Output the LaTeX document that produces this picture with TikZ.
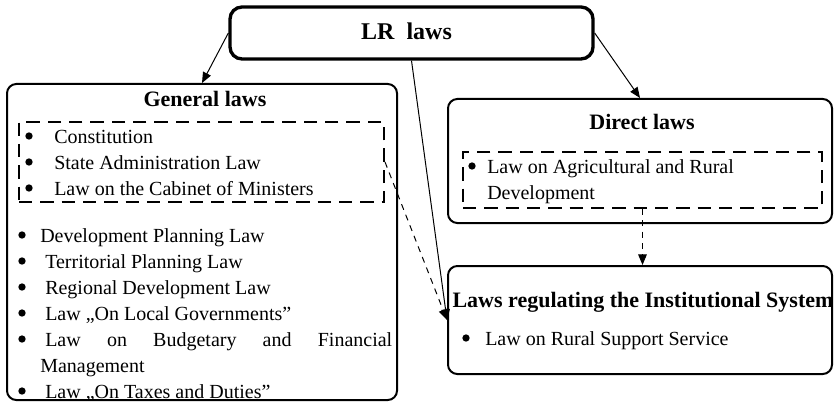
\documentclass[tikz,border=0pt]{standalone}
\usepackage{fontspec}
\setmainfont{Liberation Serif}
\usetikzlibrary{arrows.meta}

\begin{document}
\begin{tikzpicture}[x=0.75pt,y=-0.75pt,
  >={Triangle[length=8pt,width=6.5pt]},
  lawbox/.style={draw,line width=1.5pt,rounded corners=7pt,inner sep=0pt},
  dashbox/.style={draw,line width=1.5pt,dash pattern=on 10pt off 6pt,inner sep=0pt},
  ttl/.style={font=\fontsize{16.5}{20}\selectfont\bfseries,anchor=base,inner sep=0pt},
  txt/.style={font=\fontsize{15}{19.5}\selectfont,anchor=base west,inner sep=0pt},
  bul/.style={circle,fill,inner sep=0pt,minimum size=5.5pt},
  link/.style={->,line width=0.75pt},
  dlink/.style={->,line width=0.75pt,dash pattern=on 4.5pt off 4pt}]
\useasboundingbox (0,0) rectangle (834,406);
% top box
\node[lawbox,line width=2.5pt,rounded corners=9pt,
  minimum width=272.25pt,minimum height=39pt] (lr) at (411.5,33) {};
\node[ttl,font=\fontsize{18}{22}\selectfont\bfseries] (lrt) at (406.5,40) {LR\ \ laws};
% general laws
\node[lawbox,minimum width=292.5pt,minimum height=237pt] (gen) at (202,242) {};
\node[ttl] (gent) at (205,107) {General laws};
\node[dashbox,minimum width=273.75pt,minimum height=60pt] (gendash) at (201.5,162) {};
\foreach \y/\t [count=\i] in {143/Constitution,169/State Administration Law,
  195/Law on the Cabinet of Ministers} {
  \node[bul] (ga\i) at (29,\y-7) {};
  \node[txt] (gat\i) at (54,\y) {\t};
}
\node[bul] (gb1) at (22,235) {};
\node[txt] (gbt1) at (40,242) {Development Planning Law};
\foreach \y/\t [count=\i from 2] in {268/Territorial Planning Law,
  294/Regional Development Law,320/Law „On Local Governments”,
  398/Law „On Taxes and Duties”} {
  \node[bul] (gb\i) at (22,\y-7) {};
  \node[txt] (gbt\i) at (45,\y) {\t};
}
\node[bul] (gb6) at (22,339) {};
\node[txt,anchor=north west,text width=264pt,align=justify] (gbt6) at (40,332.3)
  {\hspace*{3.75pt}Law on Budgetary and Financial \mbox{Management}};
% direct laws
\node[lawbox,minimum width=288pt,minimum height=93pt] (direct) at (640,161) {};
\node[ttl] (dirt) at (642,130) {Direct laws};
\node[dashbox,minimum width=269.25pt,minimum height=42pt] (dirdash) at (642.5,180) {};
\node[bul] (db1) at (472,166) {};
\node[txt,anchor=north west,align=left] (dbt1) at (487,159.3)
  {Law on Agricultural and Rural\\Development};
% institutional system
\node[lawbox,minimum width=288pt,minimum height=81pt] (inst) at (640,320) {};
\node[ttl] (instt) at (643,307) {Laws regulating the Institutional System};
\node[bul] (ib1) at (466,338) {};
\node[txt] (ibt1) at (485,345) {Law on Rural Support Service};
% connectors
\draw[link] (lr.west) -- (gen.north);
\draw[link] (lr.east) -- (direct.north);
\draw[link] (lr.south) -- (inst.west);
\draw[dlink] (gendash.east) -- (inst.west);
\draw[dlink] (dirdash.south) -- (dirdash.south |- inst.north);
\end{tikzpicture}
\end{document}
